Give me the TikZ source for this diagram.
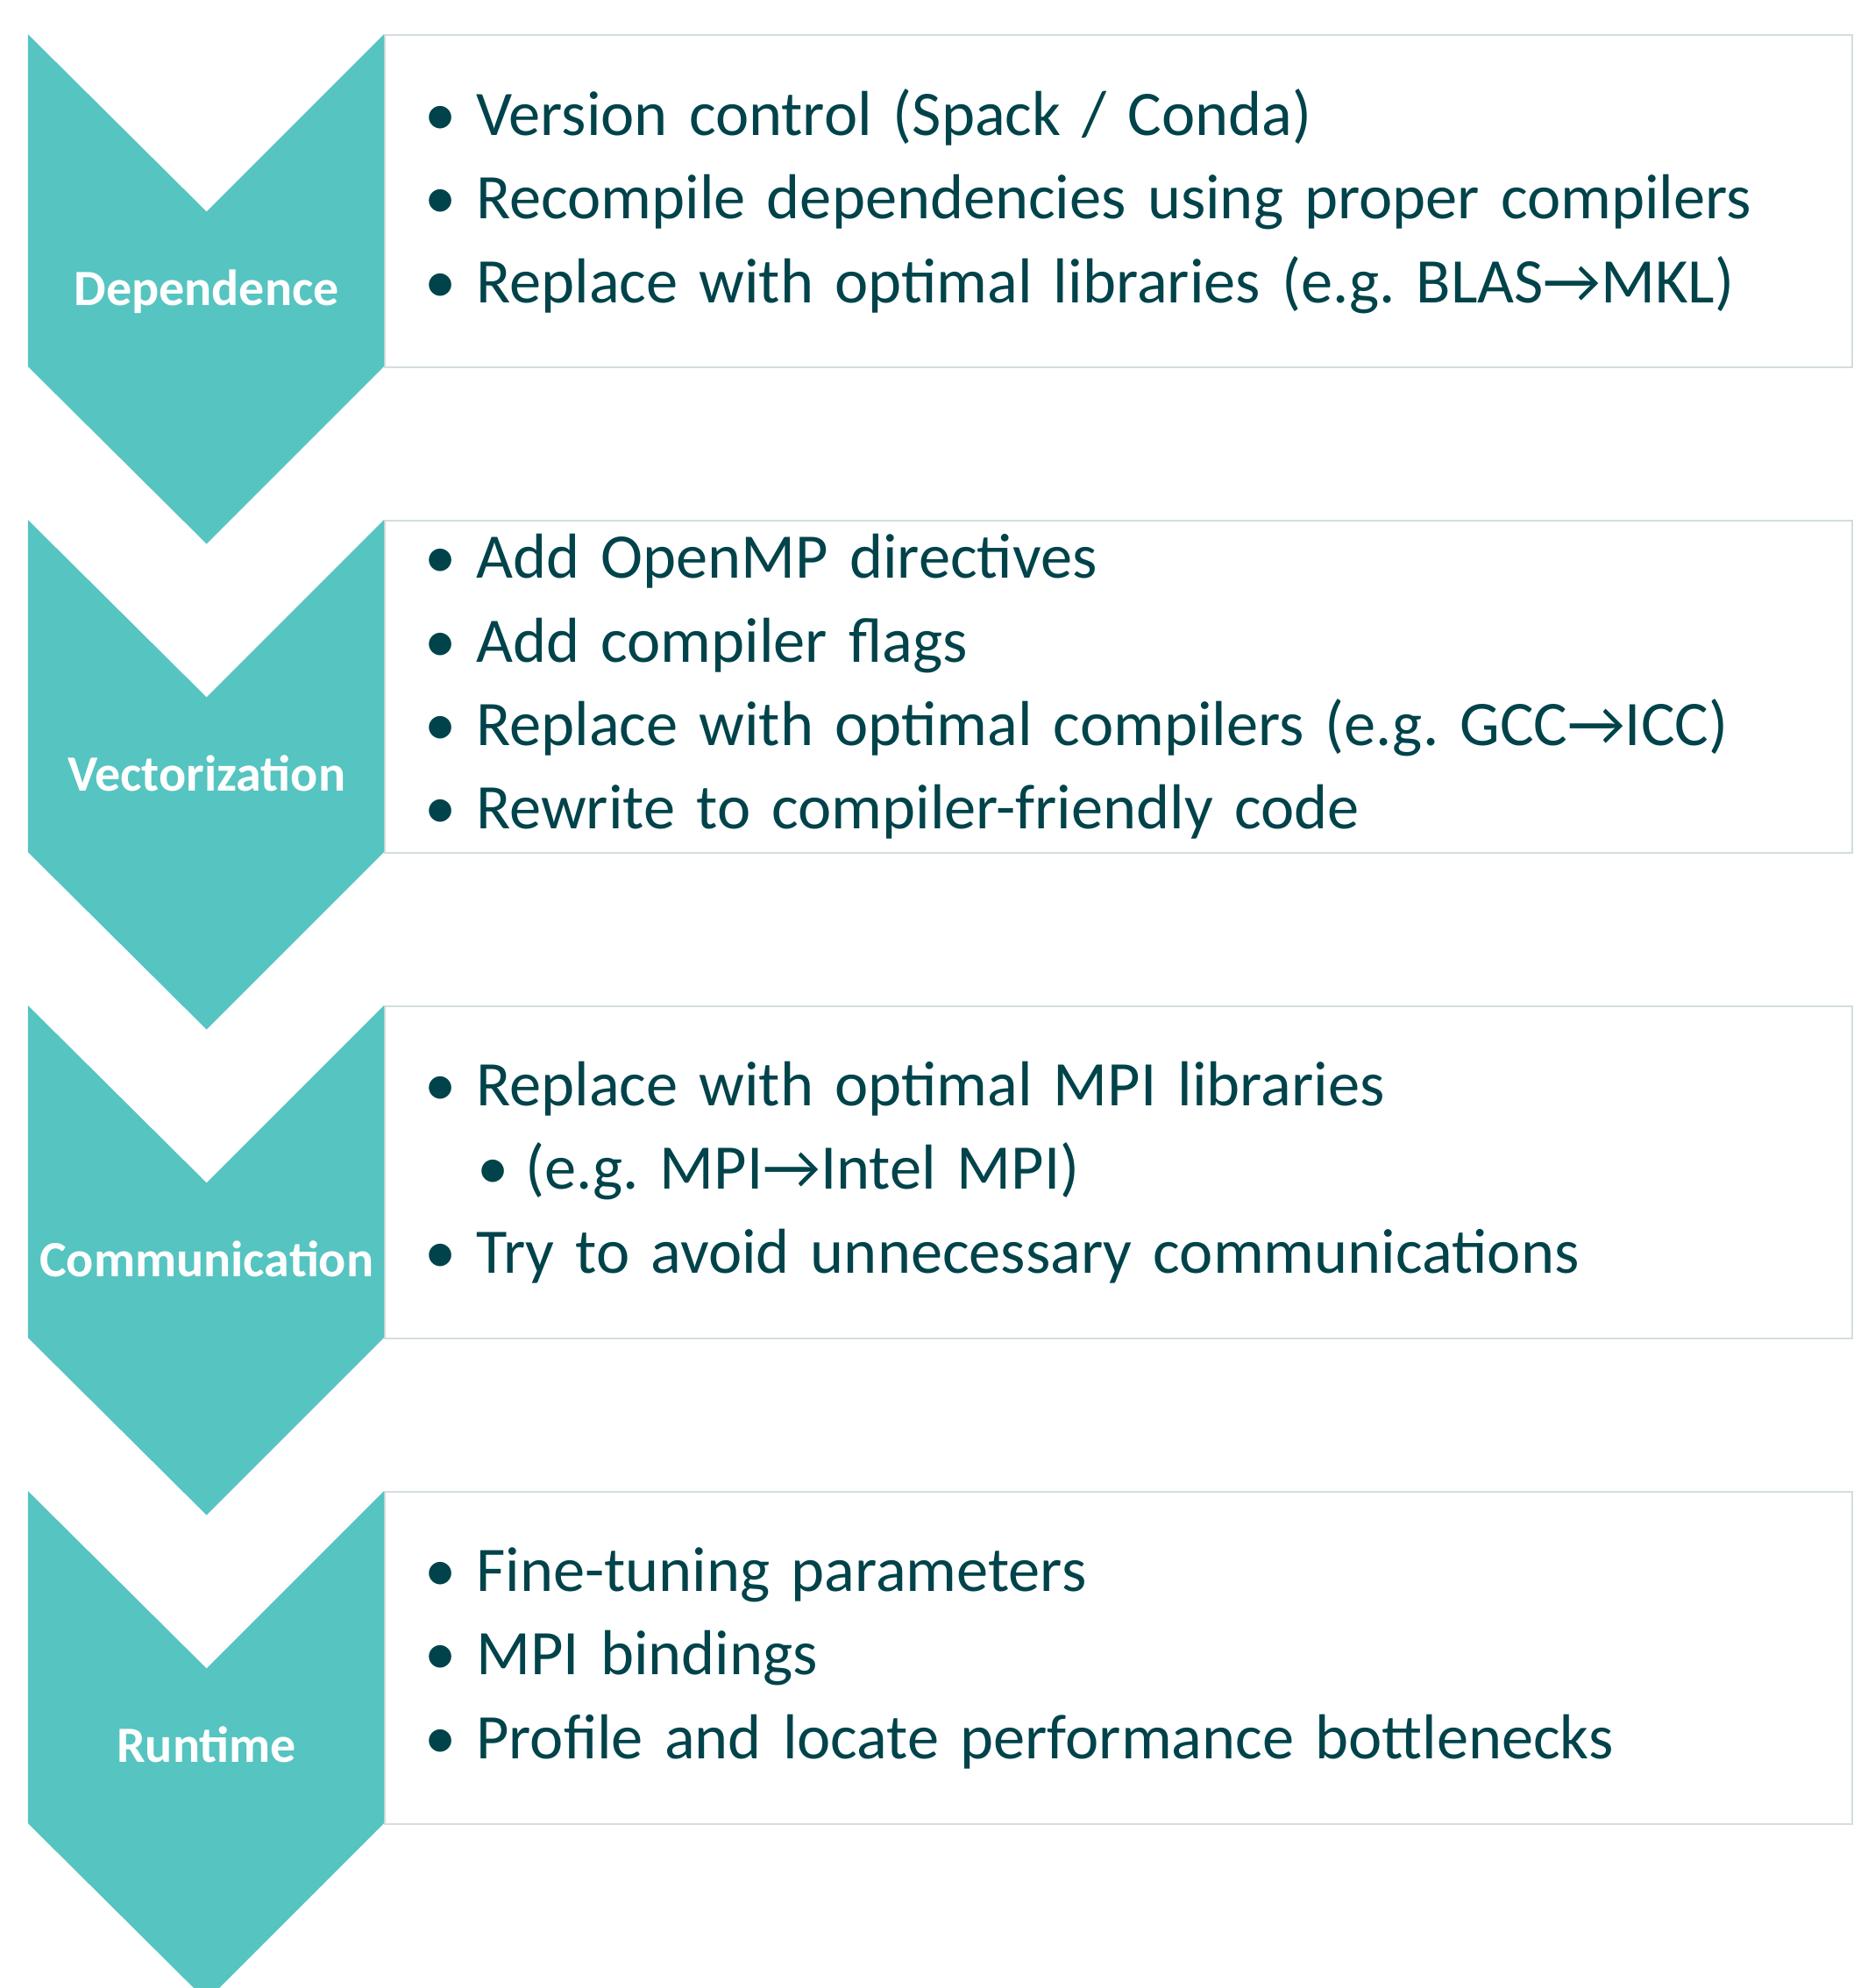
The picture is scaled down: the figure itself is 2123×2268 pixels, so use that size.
\documentclass[tikz,border=0pt]{standalone}
\usepackage{fontspec}
\setmainfont{Carlito}
\usepackage{xcolor}

\definecolor{chevfill}{HTML}{56C4C0}
\definecolor{itemtext}{HTML}{00434A}
\definecolor{boxline}{HTML}{D3DDDF}

\newcommand{\bul}{\makebox[0.59cm][l]{\textbullet}}
\newcommand{\subbul}{\hspace{0.6cm}\makebox[0.55cm][l]{\textbullet}}
\frenchspacing

\begin{document}
\begin{tikzpicture}[x=0.01cm, y=-0.01cm,
    chevron/.style={fill=chevfill, draw=none},
    items/.style={draw=boxline, line width=0.02cm, anchor=north west,
        minimum width=16.73cm, minimum height=3.79cm, text width=15.83cm,
        inner xsep=0.45cm, align=left, text=itemtext,
        font=\fontsize{20.6}{27.1}\selectfont},
    steplabel/.style={text=white, anchor=base, inner sep=0pt,
        font=\fontsize{16.5}{19}\selectfont\bfseries}]
    \useasboundingbox (0,0) rectangle (2123,2268);
    \clip (0,0) rectangle (2123,2268);

    % boxes
    \node[items] (depbox) at (438.2,39) {\bul Version control (Spack / Conda)\\
        \bul Recompile dependencies using proper compilers\\
        \bul Replace with optimal libraries (e.g. BLAS→MKL)};
    \node[items] (vecbox) at (438.2,593) {\bul Add OpenMP directives\\
        \bul Add compiler flags\\
        \bul Replace with optimal compilers (e.g. GCC→ICC)\\
        \bul Rewrite to compiler-friendly code};
    \node[items] (combox) at (438.2,1147) {\bul Replace with optimal MPI libraries\\
        \subbul (e.g. MPI→Intel MPI)\\
        \bul Try to avoid unnecessary communications};
    \node[items] (runbox) at (438.2,1701) {\bul Fine-tuning parameters\\
        \bul MPI bindings\\
        \bul Profile and locate performance bottlenecks};

    % chevrons
    \fill[chevron] (31.8,39) -- (235.7,241.5) -- (438.2,39) -- (438.2,418) -- (235.7,620.5) -- (31.8,418) -- cycle;
    \fill[chevron] (31.8,593) -- (235.7,795.5) -- (438.2,593) -- (438.2,972) -- (235.7,1174.5) -- (31.8,972) -- cycle;
    \fill[chevron] (31.8,1147) -- (235.7,1349.5) -- (438.2,1147) -- (438.2,1526) -- (235.7,1728.5) -- (31.8,1526) -- cycle;
    \fill[chevron] (31.8,1701) -- (235.7,1903.5) -- (438.2,1701) -- (438.2,2080) -- (235.7,2282.5) -- (31.8,2080) -- cycle;

    \node[steplabel] (dep) at (235.7,348) {Dependence};
    \node[steplabel] (vec) at (235.7,902) {Vectorization};
    \node[steplabel] (com) at (235.7,1456) {Communication};
    \node[steplabel] (run) at (235.7,2010) {Runtime};
\end{tikzpicture}
\end{document}
